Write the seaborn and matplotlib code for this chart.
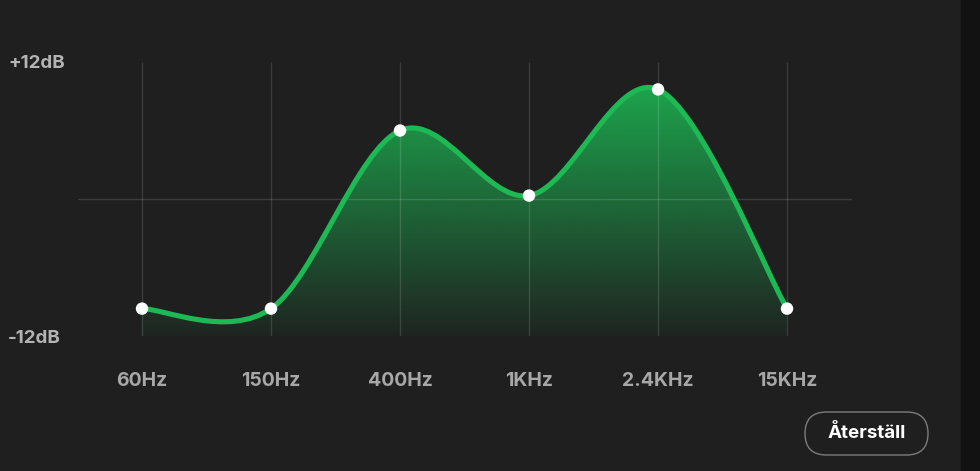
import numpy as np
import matplotlib
matplotlib.use("Agg")
import matplotlib.pyplot as plt
import seaborn as sns
from matplotlib.path import Path
from matplotlib.patches import PathPatch, FancyBboxPatch, Rectangle
from matplotlib.transforms import blended_transform_factory

# EQ bands and gains (dB)
bands = ["60Hz", "150Hz", "400Hz", "1KHz", "2.4KHz", "15KHz"]
gains = [-9.6, -9.6, 6.0, 0.3, 9.6, -9.6]
db_min, db_max = -12, 12
db_labels = ["-12dB", "+12dB"]
reset_label = "Återställ"

BG = "#1f1f1f"
GREEN = "#1db954"

sns.set_theme(style="dark", rc={
    "figure.facecolor": BG,
    "axes.facecolor": BG,
    "savefig.facecolor": BG,
})
plt.rcParams["font.family"] = ["Inter", "DejaVu Sans"]

fig = plt.figure(figsize=(9.8, 4.71), dpi=100)
ax = fig.add_axes([0.0791, 0.2866, 0.7898, 0.5817])
fig.patches.append(Rectangle((961 / 980, 0), 1, 1, transform=fig.transFigure,
                             color="#121212", zorder=0))

x = np.arange(len(bands), dtype=float)
y = np.array(gains, dtype=float)

# smooth curve through the points (cardinal spline as cubic bezier segments)
px = np.concatenate([[x[0]], x, [x[-1]]])
py = np.concatenate([[y[0]], y, [y[-1]]])
verts = [(x[0], y[0])]
codes = [Path.MOVETO]
for i in range(1, len(px) - 2):
    c1 = (px[i] + (px[i + 1] - px[i - 1]) / 6, py[i] + (py[i + 1] - py[i - 1]) / 6)
    c2 = (px[i + 1] - (px[i + 2] - px[i]) / 6, py[i + 1] - (py[i + 2] - py[i]) / 6)
    verts += [c1, c2, (px[i + 1], py[i + 1])]
    codes += [Path.CURVE4] * 3
curve = Path(verts, codes)

fill_verts = verts + [(x[-1], db_min), (x[0], db_min), (x[0], y[0])]
fill_codes = codes + [Path.LINETO, Path.LINETO, Path.CLOSEPOLY]
fill_patch = PathPatch(Path(fill_verts, fill_codes), facecolor="none",
                       edgecolor="none")
ax.add_patch(fill_patch)

# vertical gradient under the curve
top = 10.2
rgb = matplotlib.colors.to_rgb(GREEN)
alpha = np.linspace(0.04, 0.88, 256)
grad = np.zeros((256, 1, 4))
grad[:, 0, :3] = rgb
grad[:, 0, 3] = alpha
img = ax.imshow(grad, extent=[x[0], x[-1], db_min, top], origin="lower",
                aspect="auto", zorder=1)
img.set_clip_path(fill_patch)

# grid
ax.vlines(x, db_min, db_max, color="white", alpha=0.13, lw=1, zorder=2)
ax.axhline(0, color="white", alpha=0.13, lw=1, zorder=2)

ax.add_patch(PathPatch(curve, facecolor="none", edgecolor=GREEN, lw=3.7,
                       capstyle="round", zorder=3))
sns.scatterplot(x=x, y=y, ax=ax, color="white", s=80, edgecolor="none",
                zorder=4, legend=False)

ax.set_xlim(-0.5, 5.5)
ax.set_ylim(db_min, db_max)
ax.set_xticks(x, bands)
ax.set_yticks([])
ax.tick_params(axis="x", length=0, pad=26, labelsize=14, labelcolor="#a7a7a7")
for lab in ax.get_xticklabels():
    lab.set_fontweight("bold")
for s in ax.spines.values():
    s.set_visible(False)
ax.grid(False)

tr = blended_transform_factory(fig.transFigure, ax.transData)
ax.text(8 / 980, db_max - 0.1, db_labels[1], transform=tr, ha="left", va="center",
        fontsize=13.5, fontweight="bold", color="#b3b3b3")
ax.text(8 / 980, db_min - 0.2, db_labels[0], transform=tr, ha="left", va="center",
        fontsize=13.5, fontweight="bold", color="#b3b3b3")

# reset button
bx0, by0, bw, bh = 805 / 980, (471 - 455) / 471, 123 / 980, 43 / 471
fig.patches.append(FancyBboxPatch((805, 16), 123, 43, transform=None,
                                  boxstyle="round,pad=0,rounding_size=21.5",
                                  facecolor="none", edgecolor="#7c7c7c", lw=1))
fig.text(bx0 + bw / 2, by0 + bh / 2, reset_label, ha="center", va="center",
         fontsize=13.5, fontweight="bold", color="white")

fig.savefig("out.png", dpi=100)
